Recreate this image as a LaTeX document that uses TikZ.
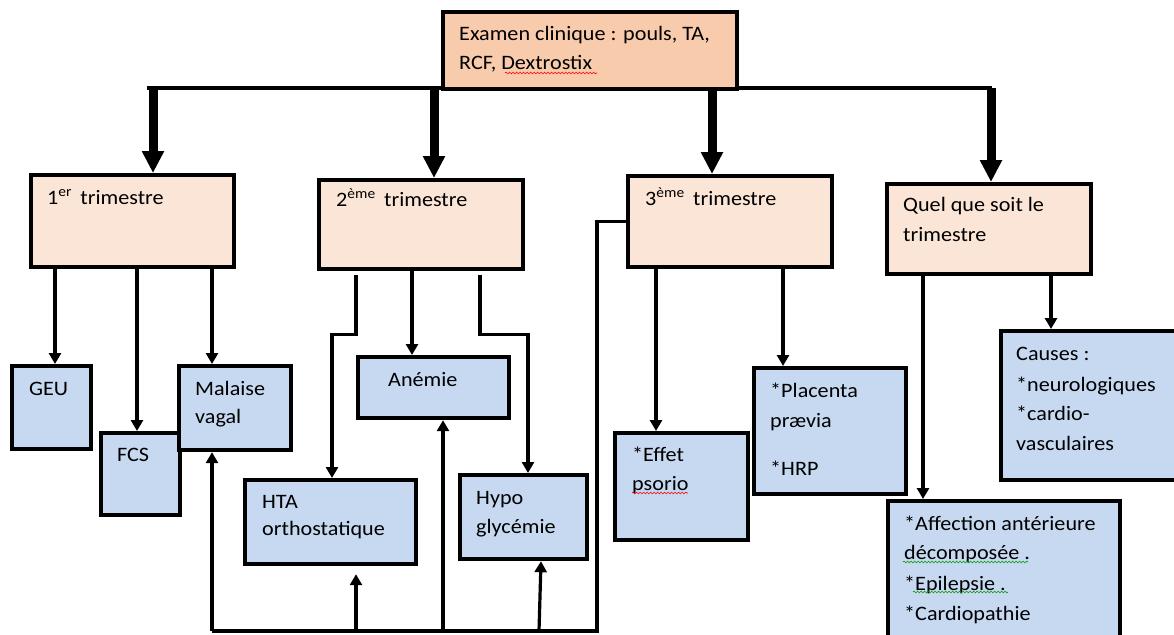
\documentclass[tikz,border=0pt]{standalone}
\usepackage{fontspec}
\setmainfont{Carlito}[FakeStretch=1.08]
\usepackage{tikz}
\usetikzlibrary{arrows.meta,calc,positioning,decorations.pathmorphing}
\definecolor{peachtop}{HTML}{F8CBAD}
\definecolor{peachlight}{HTML}{FBE5D6}
\definecolor{bluebox}{HTML}{C6D9F1}
\tikzset{
  box/.style={draw, line width=4.2pt, anchor=north west, inner sep=0pt},
  topbox/.style={box, fill=peachtop},
  tribox/.style={box, fill=peachlight},
  signbox/.style={box, fill=bluebox},
  txt/.style={anchor=base west, inner sep=0pt, font=\fontsize{20.5}{24}\selectfont},
  conn/.style={line width=3.2pt, -{Triangle[width=12pt,length=11pt]}},
  plainline/.style={line width=3.2pt},
  bigarrow/.style={line width=9pt, -{Triangle[width=21pt,length=22pt]}},
  redwave/.style={draw=red, line width=0.6pt, decorate, decoration={snake, amplitude=0.9pt, segment length=3.5pt}},
  greenwave/.style={redwave, draw=green!60!black}
}

\begin{document}
\begin{tikzpicture}[x=1pt, y=-1pt]
        \useasboundingbox (0,0) rectangle (1174,634);
        \clip (0,0) rectangle (1174,634);
        % Top line under the examen box
        \coordinate (hl) at (147,88);
        \coordinate (hr) at (992,88);
        \draw[line width=4.5pt] (hl) -- (hr);
        % Boxes
        \node[topbox, minimum width=294, minimum height=77] (exam) at (441,10) {};
        \node[tribox, minimum width=203, minimum height=92] (tri1) at (29,173) {};
        \node[tribox, minimum width=204, minimum height=89] (tri2) at (317,178) {};
        \node[tribox, minimum width=204, minimum height=91] (tri3) at (626,174) {};
        \node[tribox, minimum width=204, minimum height=90] (quel) at (885,182) {};
        \node[signbox, minimum width=79, minimum height=83] (geu) at (10,364) {};
        \node[signbox, minimum width=79, minimum height=82] (fcs) at (99,431) {};
        \node[signbox, minimum width=112, minimum height=84] (mal) at (177,364) {};
        \node[signbox, minimum width=171, minimum height=84] (hta) at (243,478) {};
        \node[signbox, minimum width=151, minimum height=61] (anemie) at (356,355) {};
        \node[signbox, minimum width=127, minimum height=84] (hypo) at (458,473) {};
        \node[signbox, minimum width=133, minimum height=107] (effet) at (613,431) {};
        \node[signbox, minimum width=152, minimum height=126] (plac) at (752,366) {};
        \node[signbox, minimum width=232, minimum height=160] (aff) at (886,499) {};
        \node[signbox, minimum width=200, minimum height=149] (causes) at (999,329) {};
        % Big arrows to the trimesters
        \draw[bigarrow] ($(tri1.north west)+(124,-85)$) -- ($(tri1.north west)+(124,0)$);
        \draw[bigarrow] ($(tri2.north west)+(117,-90)$) -- ($(tri2.north west)+(117,0)$);
        \draw[bigarrow] ($(tri3.north west)+(86,-86)$) -- ($(tri3.north west)+(86,0)$);
        \draw[bigarrow] ($(quel.north west)+(106,-94)$) -- ($(quel.north west)+(106,0)$);
        % 1er trimestre
        \draw[conn] ($(tri1.south west)+(26,0)$) -- ($(geu.north west)+(45,0)$);
        \draw[conn] ($(tri1.south west)+(108,0)$) -- ($(fcs.north west)+(38,0)$);
        \draw[conn] ($(tri1.south west)+(183,0)$) -- ($(mal.north west)+(35,0)$);
        % 2eme trimestre
        \draw[conn] ($(tri2.south west)+(39,4)$) -- ++(0,59) -| ($(hta.north west)+(89,0)$);
        \draw[conn] ($(tri2.south west)+(95,0)$) -- ($(anemie.north west)+(56,0)$);
        \draw[conn] ($(tri2.south west)+(163,4)$) -- ++(0,59) -| ($(hypo.north west)+(70,0)$);
        % 3eme trimestre
        \draw[conn] ($(tri3.south west)+(30,0)$) -- ($(effet.north west)+(43,0)$);
        \draw[conn] ($(tri3.south west)+(157,0)$) -- ($(plac.north west)+(31,0)$);
        \coordinate (busr) at (597,631);
        \coordinate (busl) at (212,631);
        \coordinate (bhta) at (356,631);
        \coordinate (bane) at (443,631);
        \coordinate (bhyp) at (539,631);
        \draw[plainline] (tri3.west) -| (busr) -- (busl);
        \draw[conn] (busl) -- ($(mal.south west)+(35,0)$);
        \draw[conn] (bhta) -- ($(hta.south west)+(113,8)$);
        \draw[conn] (bane) -- ($(anemie.south west)+(87,0)$);
        \draw[conn] (bhyp) -- ($(hypo.south west)+(83,0)$);
        % Quel que soit le trimestre
        \draw[conn] ($(quel.south west)+(38,0)$) -- ($(aff.north west)+(37,0)$);
        \draw[conn] ($(quel.south west)+(166,0)$) -- ($(causes.north west)+(52,0)$);
        % Texts
        \node[txt] (t-exam1) at (459,41) {Examen clinique : pouls, TA,};
        \node[txt] (t-exam2) at (459,69) {RCF, Dextrostix};
        \node[txt] (t-tri1) at (47,204) {1\textsuperscript{er}\ \,trimestre};
        \node[txt] (t-tri2) at (336,206) {2\textsuperscript{ème}\ \,trimestre};
        \node[txt] (t-tri3) at (645,205) {3\textsuperscript{ème}\ \,trimestre};
        \node[txt] (t-quel1) at (903,211) {Quel que soit le};
        \node[txt] (t-quel2) at (903,241) {trimestre};
        \node[txt] (t-geu) at (29,395) {GEU};
        \node[txt] (t-fcs) at (117,461) {FCS};
        \node[txt] (t-mal1) at (195,395) {Malaise};
        \node[txt] (t-mal2) at (195,423) {vagal};
        \node[txt] (t-hta1) at (262,508) {HTA};
        \node[txt] (t-hta2) at (262,535) {orthostatique};
        \node[txt] (t-anemie) at (388,386) {Anémie};
        \node[txt] (t-hypo1) at (476,504) {Hypo};
        \node[txt] (t-hypo2) at (476,533) {glycémie};
        \node[txt] (t-effet1) at (632,461) {*Effet};
        \node[txt] (t-effet2) at (632,490) {psorio};
        \node[txt] (t-plac1) at (770,397) {*Placenta};
        \node[txt] (t-plac2) at (770,427) {prævia};
        \node[txt] (t-plac3) at (770,475) {*HRP};
        \node[txt] (t-causes1) at (1016,360) {Causes :};
        \node[txt] (t-causes2) at (1016,391) {*neurologiques};
        \node[txt] (t-causes3) at (1016,420) {*cardio-};
        \node[txt] (t-causes4) at (1016,450) {vasculaires};
        \node[txt] (t-aff1) at (904,530) {*Affection antérieure};
        \node[txt] (t-aff2) at (904,559) {décomposée .};
        \node[txt] (t-aff3) at (904,590) {*Epilepsie .};
        \node[txt] (t-aff4) at (904,620) {*Cardiopathie};
        % Spelling marks
        \draw[redwave] (505,73) -- (597,73);
        \draw[redwave] (632,493) -- (688,493);
        \draw[greenwave] (903,562) -- (1028,562);
        \draw[greenwave] (913,592) -- (1008,592);
      \end{tikzpicture}
\end{document}
